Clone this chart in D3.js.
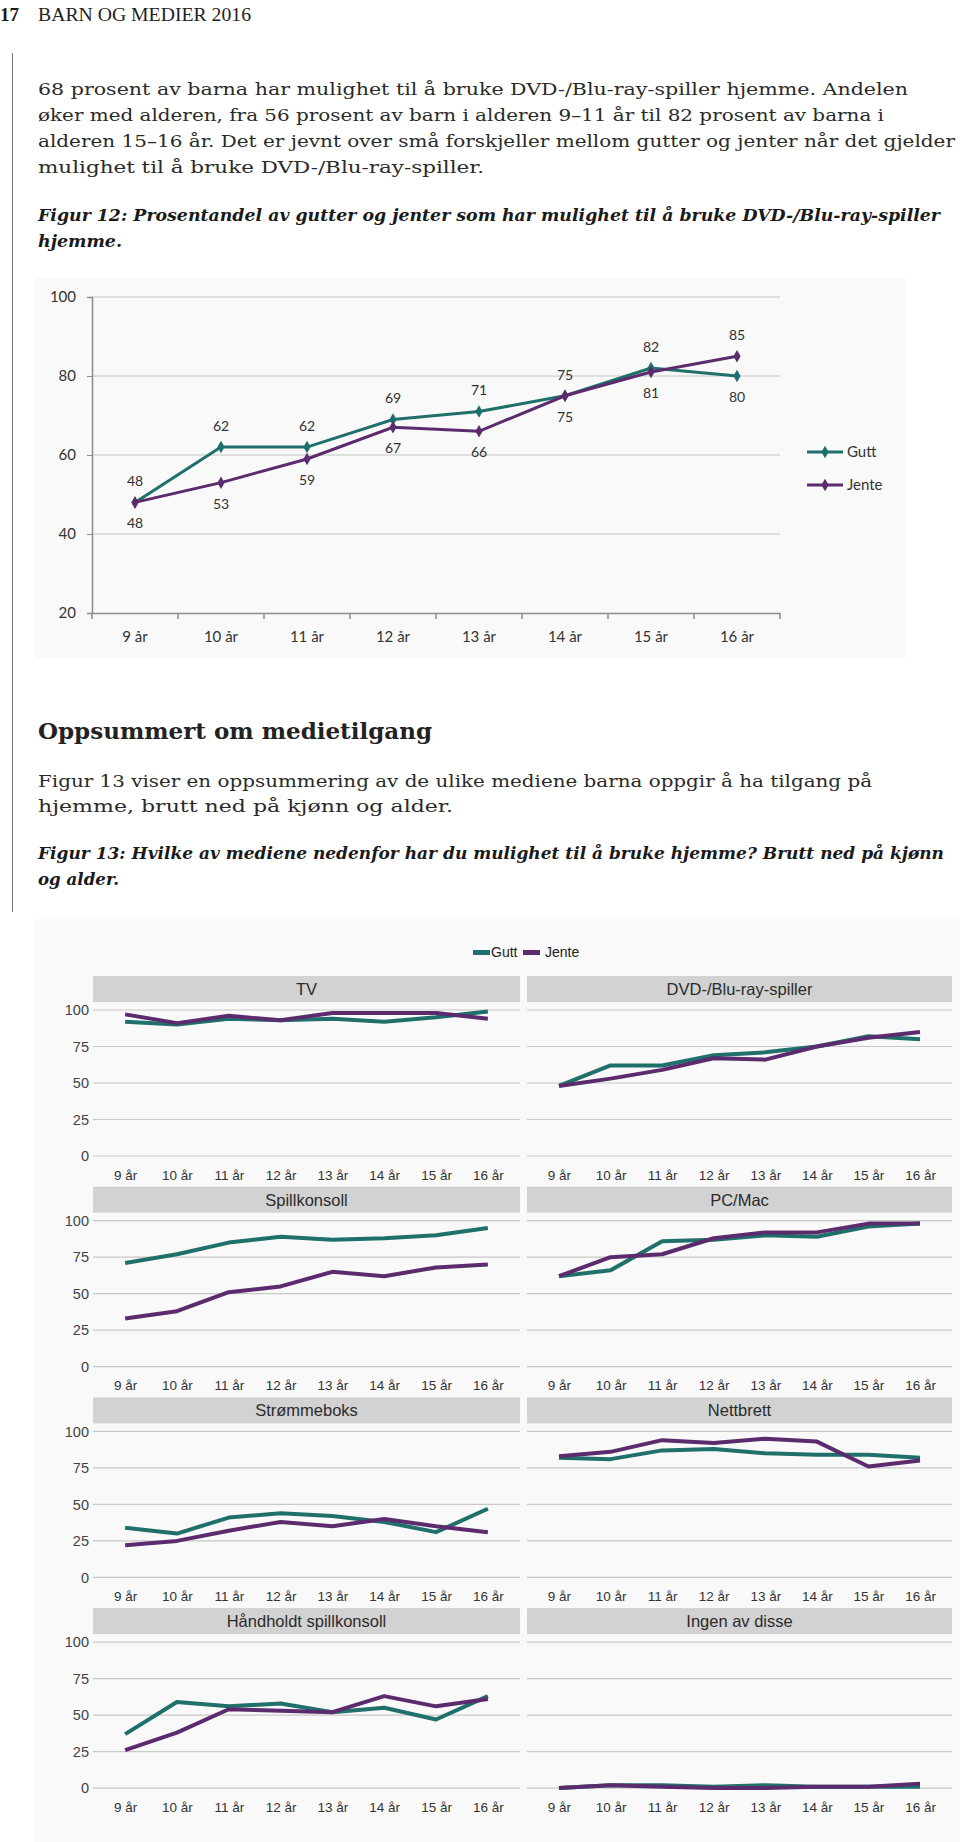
<!DOCTYPE html>
<html><head><meta charset="utf-8">
<script src="https://cdn.jsdelivr.net/npm/d3@7"></script>
<style>body{margin:0;background:#fff}svg{display:block}</style>
</head><body>
<script>
// ---------- DATA ----------
const ages = ["9 år","10 år","11 år","12 år","13 år","14 år","15 år","16 år"];
const dvdGutt  = [48,62,62,69,71,75,82,80];
const dvdJente = [48,53,59,67,66,75,81,85];
const fig12Ticks = [20,40,60,80,100];
const fig13Ticks = [0,25,50,75,100];
const seriesNames = ["Gutt","Jente"];

const panelNames = ["TV","DVD-/Blu-ray-spiller","Spillkonsoll","PC/Mac","Strømmeboks","Nettbrett","Håndholdt spillkonsoll","Ingen av disse"];
const tvGutt = [92,90,94,93,94,92,95,99];
const tvJente = [97,91,96,93,98,98,98,94];
const spillGutt = [71,77,85,89,87,88,90,95];
const spillJente = [33,38,51,55,65,62,68,70];
const pcGutt = [62,66,86,87,90,89,96,98];
const pcJente = [62,75,77,88,92,92,98,98];
const strommeGutt = [34,30,41,44,42,38,31,47];
const strommeJente = [22,25,32,38,35,40,35,31];
const nettGutt = [82,81,87,88,85,84,84,82];
const nettJente = [83,86,94,92,95,93,76,80];
const handGutt = [37,59,56,58,52,55,47,63];
const handJente = [26,38,54,53,52,63,56,61];
const ingenGutt = [0,2,2,1,2,1,1,1];
const ingenJente = [0,2,1,0,0,1,1,3];
const panelGutt = [tvGutt,dvdGutt,spillGutt,pcGutt,strommeGutt,nettGutt,handGutt,ingenGutt];
const panelJente = [tvJente,dvdJente,spillJente,pcJente,strommeJente,nettJente,handJente,ingenJente];

// ---------- STYLE ----------
const TEAL = "#1f6f6b", PURPLE = "#5b2b6d";
const SERIF = "'DejaVu Serif', 'Liberation Serif', serif";

const svg = d3.select("body").append("svg").attr("width",960).attr("height",1842);

function fitText(str, x, y, size, width, opts={}) {
  const t = svg.append("text").attr("x",x).attr("y",y).text(str)
    .attr("font-family", opts.family || SERIF)
    .attr("font-size", size)
    .attr("fill", opts.fill || "#1a1a1a");
  if (opts.weight) t.attr("font-weight", opts.weight);
  if (opts.style) t.attr("font-style", opts.style);
  if (width) t.attr("textLength", width).attr("lengthAdjust","spacingAndGlyphs");
  return t;
}

// ---------- PAGE TEXT ----------
fitText("17", 0, 21, 18, 19, {weight:"bold", family:"'Liberation Serif', serif"});
fitText("BARN OG MEDIER 2016", 38, 21, 19, 213, {family:"'Liberation Serif', serif", fill:"#222"});
svg.append("line").attr("x1",12.5).attr("x2",12.5).attr("y1",53).attr("y2",912)
  .attr("stroke","#777").attr("stroke-width",1);

const para1 = [
  ["68 prosent av barna har mulighet til å bruke DVD-/Blu-ray-spiller hjemme. Andelen", 870],
  ["øker med alderen, fra 56 prosent av barn i alderen 9–11 år til 82 prosent av barna i", 846],
  ["alderen 15–16 år. Det er jevnt over små forskjeller mellom gutter og jenter når det gjelder", 917],
  ["mulighet til å bruke DVD-/Blu-ray-spiller.", 446]
];
para1.forEach((l,i)=> fitText(l[0], 38, 95 + i*26, 17.5, l[1], {fill:"#2a2a2a"}));

fitText("Figur 12: Prosentandel av gutter og jenter som har mulighet til å bruke DVD-/Blu-ray-spiller", 38, 221, 16.5, 902, {style:"italic", weight:"bold", fill:"#1a1a1a"});
fitText("hjemme.", 38, 247, 16.5, 84, {style:"italic", weight:"bold", fill:"#1a1a1a"});

fitText("Oppsummert om medietilgang", 38, 739, 23, 394, {weight:"bold", fill:"#222"});
fitText("Figur 13 viser en oppsummering av de ulike mediene barna oppgir å ha tilgang på", 38, 787, 17.5, 834, {fill:"#2a2a2a"});
fitText("hjemme, brutt ned på kjønn og alder.", 38, 812, 17.5, 415, {fill:"#2a2a2a"});
fitText("Figur 13: Hvilke av mediene nedenfor har du mulighet til å bruke hjemme? Brutt ned på kjønn", 38, 859, 16.5, 906, {style:"italic", weight:"bold", fill:"#1a1a1a"});
fitText("og alder.", 38, 885, 16.5, 81, {style:"italic", weight:"bold", fill:"#1a1a1a"});

// ---------- FIGURE 12 ----------
const f12 = svg.append("g");
f12.append("rect").attr("x",35).attr("y",278).attr("width",870).attr("height",380).attr("fill","#f9f9f9");
const x12 = d3.scaleBand().domain(ages).range([92,780]);
const y12 = d3.scaleLinear().domain([20,100]).range([613,297]);
const cx12 = a => x12(a) + x12.bandwidth()/2;
const F12 = "Lato, 'Open Sans', sans-serif";

f12.selectAll("line.grid").data(fig12Ticks.slice(1)).join("line")
  .attr("x1",92).attr("x2",780).attr("y1",d=>y12(d)).attr("y2",d=>y12(d))
  .attr("stroke","#d6d6d6").attr("stroke-width",1.5);

const ay12 = f12.append("g").attr("transform","translate(92,0)")
  .call(d3.axisLeft(y12).tickValues(fig12Ticks).tickSize(5).tickPadding(11));
ay12.select(".domain").attr("stroke","#8c8c8c").attr("stroke-width",1.5);
ay12.selectAll(".tick line").attr("stroke","#8c8c8c");
ay12.selectAll("text").attr("font-family",F12).attr("font-size",15).attr("fill","#333");

const ax12 = f12.append("g").attr("transform","translate(0,613)")
  .call(d3.axisBottom(x12).tickSize(0).tickPadding(18));
ax12.select(".domain").attr("stroke","#8c8c8c").attr("stroke-width",1.5);
ax12.selectAll("text").attr("font-family",F12).attr("font-size",15).attr("fill","#333");
f12.selectAll("line.bt").data(ages.concat(["__end"])).join("line")
  .attr("x1",d=> d==="__end"?780:x12(d)).attr("x2",d=> d==="__end"?780:x12(d))
  .attr("y1",613).attr("y2",619).attr("stroke","#8c8c8c").attr("stroke-width",1.5);

const line12 = d3.line().x((d,i)=>cx12(ages[i])).y(d=>y12(d));
const diamond = d3.symbol(d3.symbolDiamond, 45);
[[dvdGutt,TEAL],[dvdJente,PURPLE]].forEach(([vals,col])=>{
  f12.append("path").attr("d",line12(vals)).attr("fill","none").attr("stroke",col).attr("stroke-width",3);
  f12.selectAll(null).data(vals).join("path")
    .attr("d",diamond).attr("transform",(d,i)=>`translate(${cx12(ages[i])},${y12(d)})`).attr("fill",col);
});
// data labels: higher value above, lower below (tie: Gutt above)
ages.forEach((a,i)=>{
  const g = dvdGutt[i], j = dvdJente[i];
  const gAbove = g >= j;
  [[g, gAbove],[j, !gAbove]].forEach(([v,above])=>{
    f12.append("text").attr("x",cx12(a)).attr("y", y12(v) + (above ? -21 : 21))
      .attr("dy","0.35em").attr("text-anchor","middle")
      .attr("font-family",F12).attr("font-size",14).attr("fill","#333").text(v);
  });
});
// legend
[[TEAL,452],[PURPLE,485]].forEach(([col,yy],k)=>{
  f12.append("line").attr("x1",807).attr("x2",843).attr("y1",yy).attr("y2",yy).attr("stroke",col).attr("stroke-width",3);
  f12.append("path").attr("d",diamond).attr("transform",`translate(825,${yy})`).attr("fill",col);
  f12.append("text").attr("x",847).attr("y",yy).attr("dy","0.35em").attr("font-family",F12)
    .attr("font-size",15).attr("fill","#333").text(seriesNames[k]);
});

// ---------- FIGURE 13 ----------
const f13 = svg.append("g");
const SANS = "'Liberation Sans', Arial, sans-serif";
f13.append("rect").attr("x",35).attr("y",919).attr("width",925).attr("height",923).attr("fill","#f9f9f9");

// legend
[[TEAL,473,491],[PURPLE,523,545]].forEach(([col,sx,tx],k)=>{
  f13.append("rect").attr("x",sx).attr("y",950).attr("width",17).attr("height",5).attr("fill",col);
  f13.append("text").attr("x",tx).attr("y",952).attr("dy","0.35em").attr("font-family",SANS)
    .attr("font-size",14).attr("fill","#222").text(seriesNames[k]);
});

const colRanges = [[93,520],[527,952]];
panelNames.forEach((name,p)=>{
  const col = p % 2, row = Math.floor(p/2);
  const top = 976 + row*210.7;
  const [x0,x1] = colRanges[col];
  const g = f13.append("g");
  const xs = d3.scalePoint().domain(ages).range([x0,x1]).padding(0.62);
  const ys = d3.scaleLinear().domain([0,100]).range([top+180, top+34]);

  g.append("rect").attr("x",x0).attr("y",top).attr("width",x1-x0).attr("height",26).attr("fill","#d2d2d2");
  g.append("text").attr("x",(x0+x1)/2).attr("y",top+13).attr("dy","0.36em").attr("text-anchor","middle")
    .attr("font-family",SANS).attr("font-size",16.5).attr("fill","#2b2b2b").text(name);

  g.selectAll("line.grid").data(fig13Ticks).join("line")
    .attr("x1",x0).attr("x2",x1).attr("y1",d=>ys(d)).attr("y2",d=>ys(d))
    .attr("stroke","#c8c8c8").attr("stroke-width",1.2);

  if (col === 0) {
    const ay = g.append("g").attr("transform",`translate(${x0},0)`)
      .call(d3.axisLeft(ys).tickValues(fig13Ticks).tickSize(0).tickPadding(4));
    ay.select(".domain").remove();
    ay.selectAll("text").attr("font-family",SANS).attr("font-size",14.5).attr("fill","#444");
  }
  const ax = g.append("g").attr("transform",`translate(0,${top+180})`)
    .call(d3.axisBottom(xs).tickSize(0).tickPadding(14));
  ax.select(".domain").remove();
  ax.selectAll("text").attr("font-family",SANS).attr("font-size",13.5).attr("fill","#333");

  const ln = d3.line().x((d,i)=>xs(ages[i])).y(d=>ys(d));
  [[panelGutt[p],TEAL],[panelJente[p],PURPLE]].forEach(([vals,c])=>{
    g.append("path").attr("d",ln(vals)).attr("fill","none").attr("stroke",c)
      .attr("stroke-width",4).attr("stroke-linejoin","round");
  });
});
</script>
</body></html>
